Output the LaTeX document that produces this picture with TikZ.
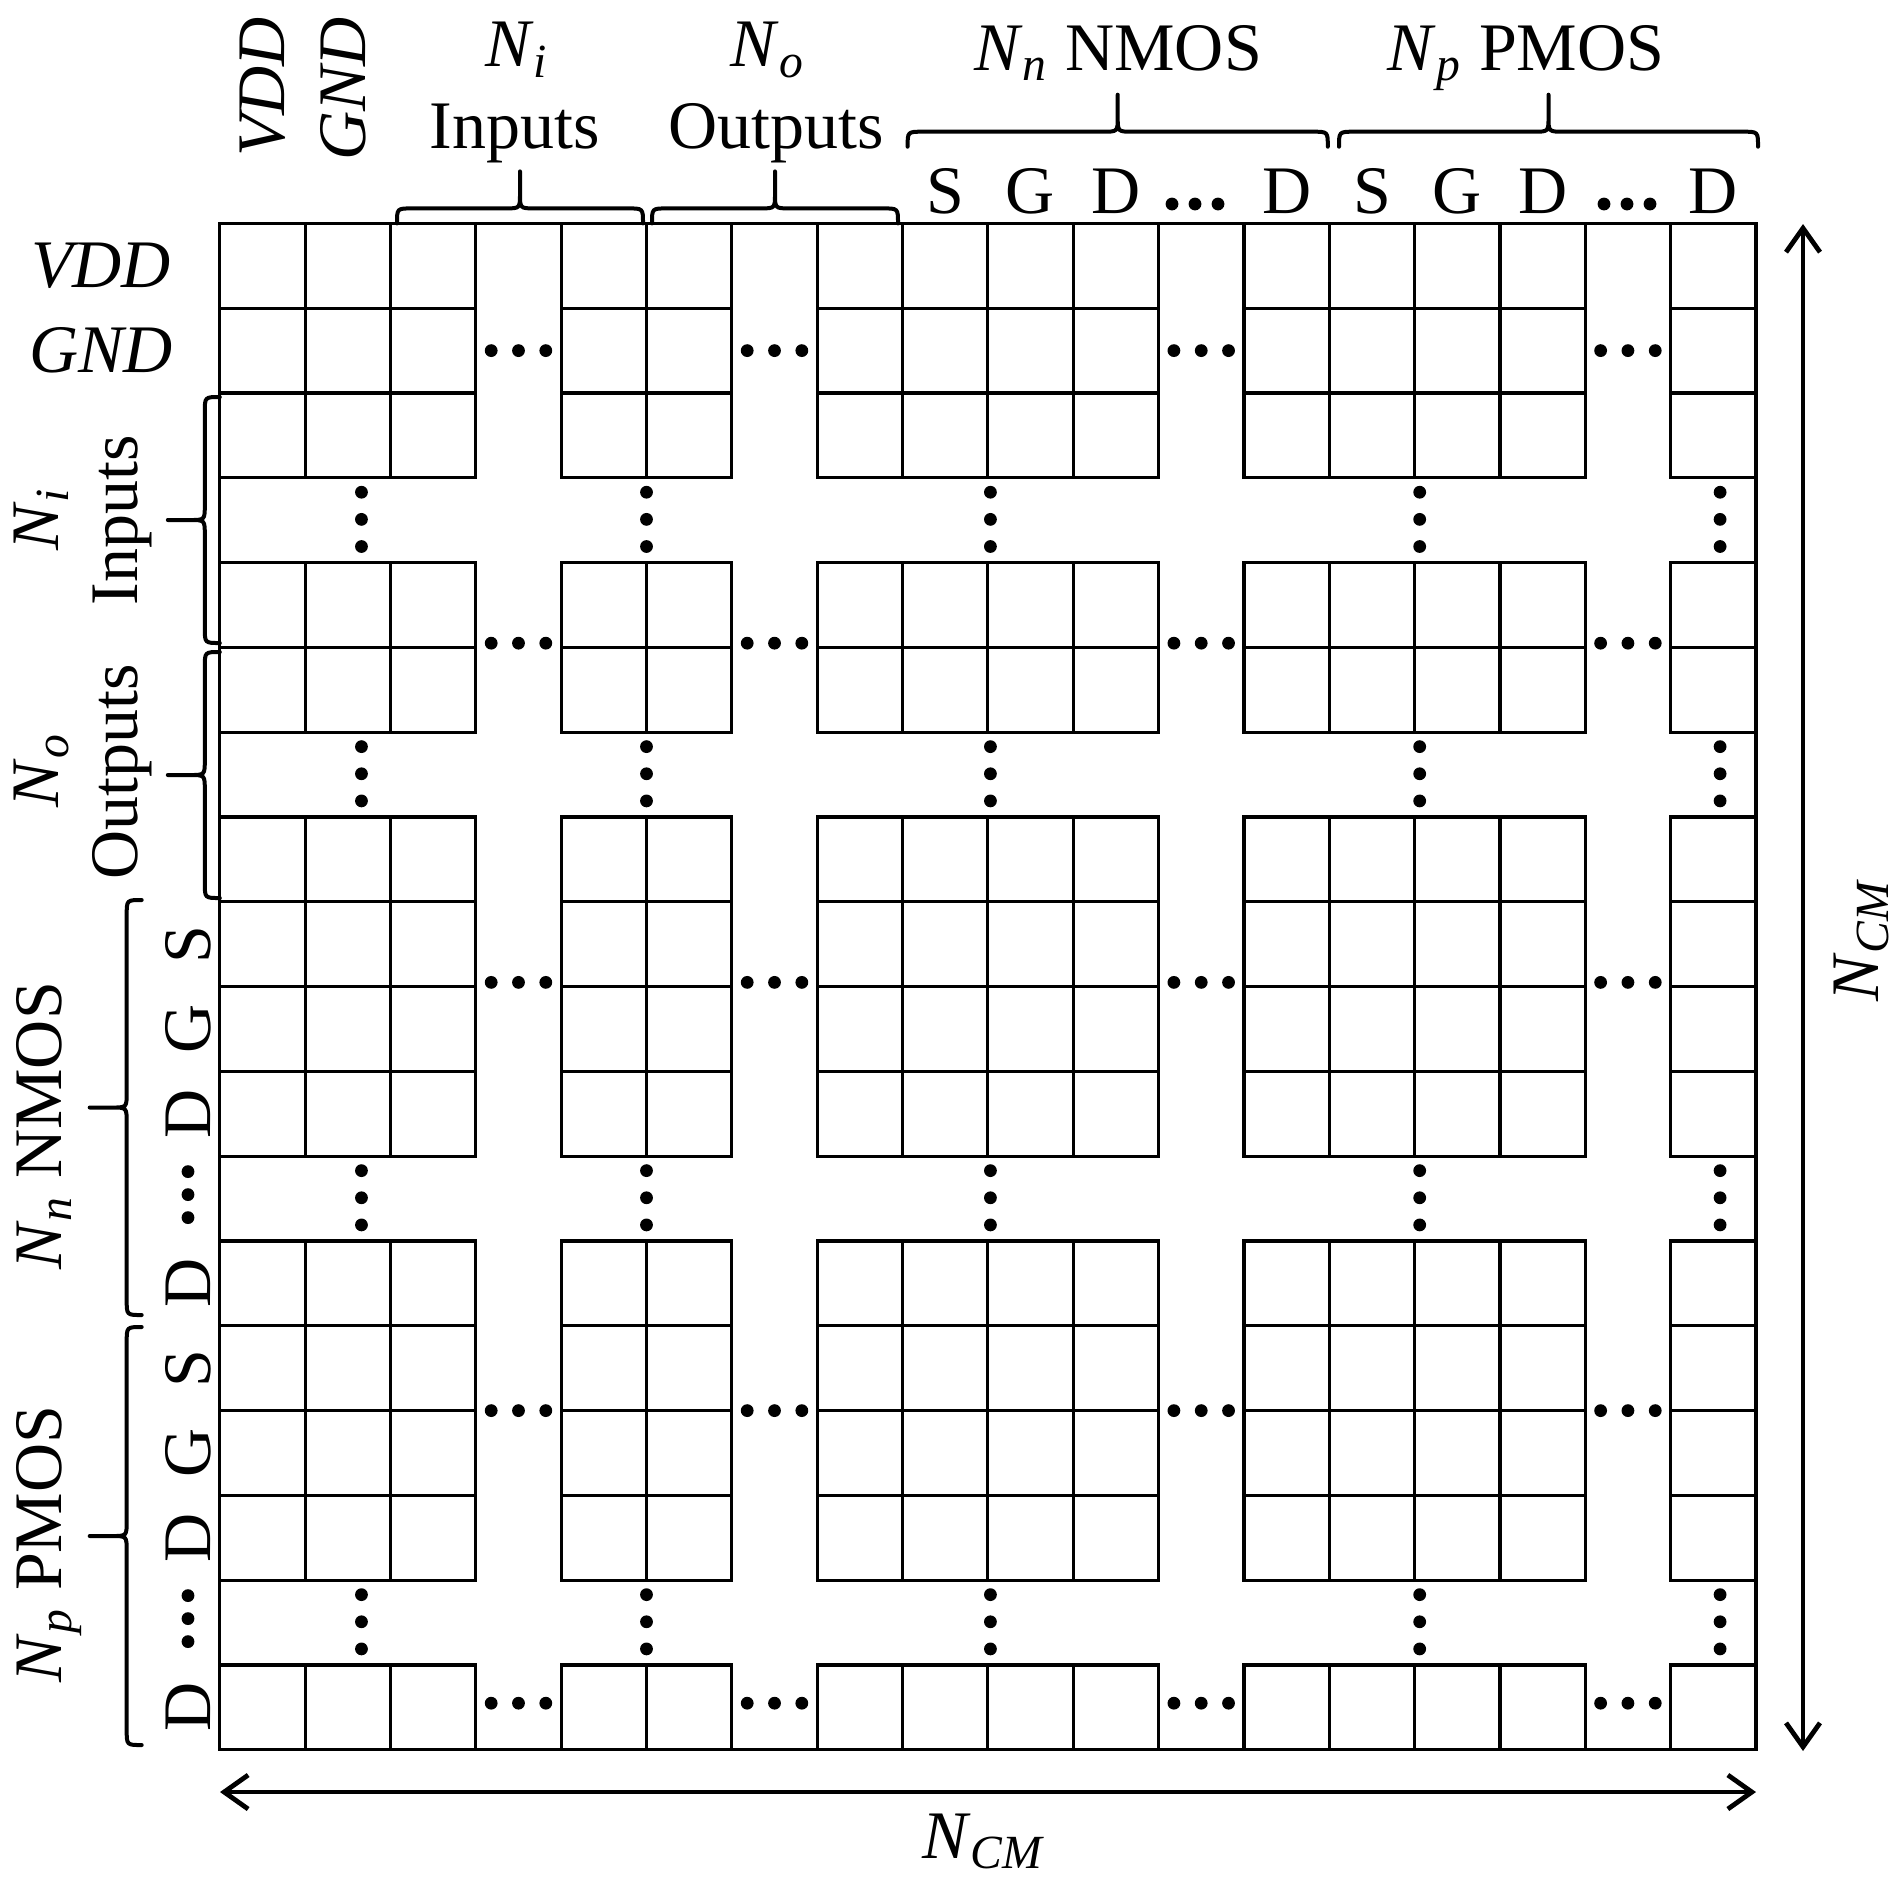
\documentclass[tikz,border=0pt]{standalone}
\usepackage{amsmath}
\usepackage{fontspec}
\setmainfont{Liberation Serif}
\usetikzlibrary{arrows.meta}

\newcommand\Nlab[1]{\textit{N}$_{\textit{#1}}$}
% top brace: x1, x2, ybase (pixel coordinates, y downwards)
\newcommand\mytopbrace[3]{%
  \pgfmathsetmacro\bxa{#1}\pgfmathsetmacro\bxb{#2}\pgfmathsetmacro\byb{#3}%
  \pgfmathsetmacro\bxm{(#1+#2)/2}%
  \draw[bracestyle] (\bxa,\byb) .. controls (\bxa,\byb-15) .. (\bxa+15,\byb-15)
    -- (\bxm-15,\byb-15) .. controls (\bxm,\byb-15) .. (\bxm,\byb-30) -- (\bxm,\byb-52)
    (\bxm,\byb-30) .. controls (\bxm,\byb-15) .. (\bxm+15,\byb-15)
    -- (\bxb-15,\byb-15) .. controls (\bxb,\byb-15) .. (\bxb,\byb);
}
% left brace: y1, y2, xbase
\newcommand\myleftbrace[3]{%
  \pgfmathsetmacro\bya{#1}\pgfmathsetmacro\byc{#2}\pgfmathsetmacro\bxb{#3}%
  \pgfmathsetmacro\bym{(#1+#2)/2}%
  \draw[bracestyle] (\bxb,\bya) .. controls (\bxb-15,\bya) .. (\bxb-15,\bya+15)
    -- (\bxb-15,\bym-15) .. controls (\bxb-15,\bym) .. (\bxb-30,\bym) -- (\bxb-52,\bym)
    (\bxb-30,\bym) .. controls (\bxb-15,\bym) .. (\bxb-15,\bym+15)
    -- (\bxb-15,\byc-15) .. controls (\bxb-15,\byc) .. (\bxb,\byc);
}

\begin{document}
\begin{tikzpicture}[x=0.25pt, y=-0.25pt,
  gridline/.style={line width=0.8pt, line join=miter},
  bracestyle/.style={line width=1.0pt, line cap=round},
  dimarrow/.style={line width=1.2pt, {Straight Barb[length=6pt,width=8.5pt]}-{Straight Barb[length=6pt,width=8.5pt]}},
  lab/.style={inner sep=0pt, font=\fontsize{17}{20}\selectfont},
  dotfill/.style={fill=black}]
\useasboundingbox (0,0) rectangle (1904,1888);

% ---------- grid ----------
\begin{scope}[shift={(219.8,223.4)}, x=21.335pt, y=-21.2pt]
  \foreach \r in {0,1,2,4,5,7,8,9,10,12,13,14,15,17}
    \foreach \c in {0,1,2,4,5,7,8,9,10,12,13,14,15,17}
      \draw[gridline] (\c,\r) rectangle ++(1,1);
  \draw[gridline] (0,0) rectangle (18,18);
  % horizontal ellipses
  \foreach \yy in {1.5,4.95,8.95,14.0,17.45}
    \foreach \c in {3,6,11,16}
      \foreach \d in {0.18,0.5,0.82}
        \fill[dotfill] (\c+\d,\yy) circle[radius=1.6pt];
  % vertical ellipses
  \foreach \xx in {1.66,5.0,9.03,14.06,17.58}
    \foreach \r in {3,6,11,16}
      \foreach \d in {0.17,0.49,0.81}
        \fill[dotfill] (\xx,\r+\d) circle[radius=1.6pt];
\end{scope}

% ---------- top labels ----------
\node[lab, rotate=90] (tvdd) at (262.5,87) {\textit{VDD}};
\node[lab, rotate=90] (tgnd) at (343,89) {\textit{GND}};
\node[lab, anchor=base] (tni) at (517,66.7) {\Nlab{i}};
\node[lab, anchor=base] (tin) at (514.5,148) {Inputs};
\node[lab, anchor=base] (tno) at (768,66.7) {\Nlab{o}};
\node[lab, anchor=base] (tout) at (776,148) {Outputs};
\node[lab, anchor=base] (tnm) at (1118,70) {\Nlab{n} NMOS};
\node[lab, anchor=base] (tpm) at (1526,70) {\Nlab{p} PMOS};

\mytopbrace{397}{643}{223.4}
\mytopbrace{652}{898}{223.4}
\mytopbrace{907.6}{1327.8}{146.7}
\mytopbrace{1339}{1758}{146.7}

\foreach \c/\t [count=\i] in {8/S,9/G,10/D,12/D,13/S,14/G,15/D,17/D}
  \node[lab, anchor=base] (ts\i) at ({219.8+(\c+0.5)*85.34},213) {\t};
% top ellipses between labels
\foreach \xc in {1195,1627}
  \foreach \d in {-23,0,23}
    \fill[dotfill] (\xc+\d,204) circle[radius=1.6pt];

% ---------- left labels ----------
\node[lab] (lvdd) at (101,265.8) {\textit{VDD}};
\node[lab] (lgnd) at (101,350.6) {\textit{GND}};
\node[lab, rotate=90, anchor=base] (lni) at (58.5,519) {\Nlab{i}};
\node[lab, rotate=90, anchor=base] (lin) at (137,520) {Inputs};
\node[lab, rotate=90, anchor=base] (lno) at (58.5,770) {\Nlab{o}};
\node[lab, rotate=90, anchor=base] (lout) at (137,772) {Outputs};
\node[lab, rotate=90, anchor=base] (lnm) at (61,1126) {\Nlab{n} NMOS};
\node[lab, rotate=90, anchor=base] (lpm) at (61,1544) {\Nlab{p} PMOS};

\myleftbrace{397}{643}{219.8}
\myleftbrace{652}{898}{219.8}
\myleftbrace{900}{1315}{141.7}
\myleftbrace{1327}{1745}{141.7}

\foreach \r/\t [count=\i] in {8/S,9/G,10/D,12/D,13/S,14/G,15/D,17/D}
  \node[lab, rotate=90, anchor=base] (ls\i) at (210,{223.4+(\r+0.5)*84.8}) {\t};
% left ellipses between labels
\foreach \r in {11,16}
  \foreach \d in {-23,0,23}
    \fill[dotfill] (188,{223.4+(\r+0.5)*84.8-4+\d}) circle[radius=1.6pt];

% ---------- dimension arrows ----------
\coordinate (ra) at (1803,224);
\coordinate (rb) at (1803,1751);
\draw[dimarrow] (ra) -- (rb);
\node[lab, rotate=90, anchor=base] (rncm) at (1878,941) {\Nlab{CM}};

\coordinate (ba) at (220,1792);
\coordinate (bb) at (1756,1792);
\draw[dimarrow] (ba) -- (bb);
\node[lab, anchor=base] (bncm) at (983,1858) {\Nlab{CM}};
\end{tikzpicture}
\end{document}
